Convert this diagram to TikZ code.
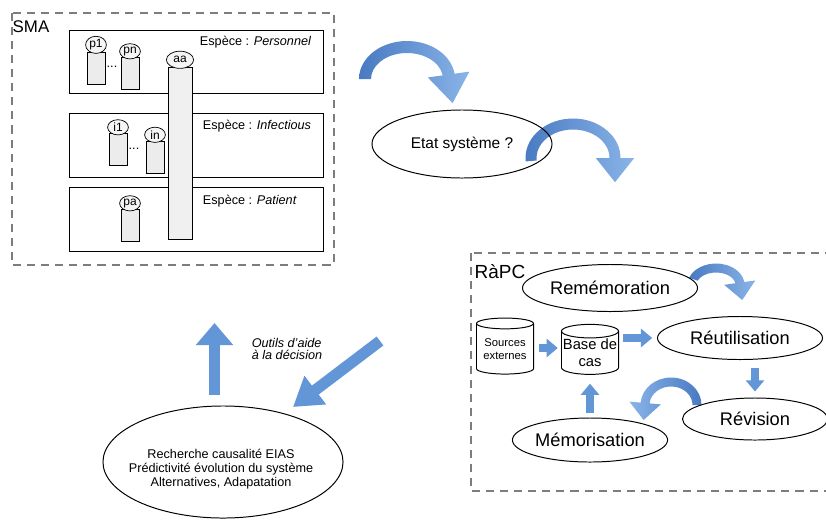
\documentclass[tikz,border=0pt]{standalone}
\usepackage{fontspec}
\setmainfont{Liberation Sans}
\usetikzlibrary{shapes.geometric,arrows.meta,calc,positioning}

\definecolor{arrowblue}{RGB}{98,150,214}
\definecolor{bluedark}{RGB}{72,122,194}
\definecolor{bluelight}{RGB}{138,180,232}
\definecolor{framegray}{RGB}{125,125,125}

% bent block arrow: [shade] {centre} {rx} {ry} {start} {end} {band} {turn} {head length}
\newcommand{\bendarrow}[9][]{%
  \pgfmathsetmacro\bax{#3+#7/2}\pgfmathsetmacro\bay{#4+#7/2}%
  \pgfmathsetmacro\bix{#3-#7/2}\pgfmathsetmacro\biy{#4-#7/2}%
  \coordinate (ba-o) at ($#2+({\bax*cos(#6)},{\bay*sin(#6)})$);
  \coordinate (ba-i) at ($#2+({\bix*cos(#6)},{\biy*sin(#6)})$);
  \coordinate (ba-m) at ($(ba-i)!0.5!(ba-o)$);
  \shade[#1] ($#2+({\bax*cos(#5)},{\bay*sin(#5)})$)
    arc[start angle=#5, end angle=#6, x radius=\bax, y radius=\bay]
    -- ($(ba-i)!2.25!(ba-o)$) -- ($(ba-m)!#9!#8:(ba-o)$)
    -- ($(ba-i)!-1.25!(ba-o)$) -- (ba-i)
    arc[start angle=#6, end angle=#5, x radius=\bix, y radius=\biy] -- cycle;
}

\begin{document}
\begin{tikzpicture}[x=0.025cm, y=0.025cm,
    frame/.style={draw=framegray, line width=1pt, dash pattern=on 5.7pt off 4.3pt},
    species/.style={draw, line width=0.7pt},
    agent/.style={rectangle, draw, fill=gray!15, line width=0.5pt, minimum width=0.45cm, minimum height=0.8cm, inner sep=0pt},
    tag/.style={ellipse, draw, fill=gray!8, line width=0.5pt, inner sep=0.5pt, minimum width=0.52cm, minimum height=0.38cm, font=\fontsize{8.5}{9}\selectfont},
    proc/.style={ellipse, draw, line width=0.7pt, inner sep=0pt, font=\fontsize{13}{15}\selectfont},
    store/.style={cylinder, shape border rotate=90, aspect=0.25, draw, line width=0.7pt, align=center, inner sep=0pt, minimum width=1.425cm},
    flow/.style={draw=arrowblue, line width=0.18cm, -{Triangle[width=0.45cm, length=0.28cm]}},
    bigflow/.style={draw=arrowblue, line width=0.28cm, -{Triangle[width=0.9cm, length=0.55cm]}}
]
\useasboundingbox (0,0) rectangle (826,-520);
\clip (0,0) rectangle (826,-520);

% SMA
\draw[frame] (12,-13) rectangle (334,-265);
\node[font=\fontsize{12}{14}\selectfont] (sma) at (31,-27) {SMA};
\draw[species] (69,-30) rectangle (323,-93);
\draw[species] (69,-113) rectangle (323,-177);
\draw[species] (69,-187) rectangle (323,-251);
\node[anchor=west, font=\fontsize{9}{11}\selectfont] (sppers) at (195,-42) {Espèce : \textit{Personnel}};
\node[anchor=west, font=\fontsize{9}{11}\selectfont] (spinf) at (198,-126) {Espèce : \textit{Infectious}};
\node[anchor=west, font=\fontsize{9}{11}\selectfont] (sppat) at (198,-201) {Espèce : \textit{Patient}};

\node[agent] (agp1) at (96,-68) {};
\node[agent] (agpn) at (130,-73.5) {};
\node[agent] (agi1) at (118,-149.5) {};
\node[agent] (agin) at (155,-157) {};
\node[agent] (agpa) at (130,-225.5) {};
\node[tag, above=-1.5pt of agp1] (tp1) {p1};
\node[tag, above=-1.5pt of agpn] (tpn) {pn};
\node[tag, above=-1.5pt of agi1] (ti1) {i1};
\node[tag, above=-1.5pt of agin] (tin) {in};
\node[tag, above=-1.5pt of agpa] (tpa) {pa};
\node[font=\small] (dots1) at (112,-67) {...};
\node[font=\small] (dots2) at (134,-149) {...};

\node[agent, fill=gray!12, minimum width=0.6cm, minimum height=4.3cm] (agaa) at (180,-153) {};
\node[tag, minimum width=0.68cm, minimum height=0.43cm, above=-1.5pt of agaa] (taa) {aa};

% curved arrows
\bendarrow[left color=bluedark, right color=bluelight]{(407,-79)}{42}{32}{180}{8}{12}{-90}{4.8}
\bendarrow[left color=bluedark, right color=bluelight]{(573,-158)}{42}{34}{185}{0}{11}{-90}{4.4}
\bendarrow[left color=bluedark, right color=bluelight]{(716,-285)}{24}{17}{160}{8}{9}{-90}{3.9}
\bendarrow[left color=bluelight, right color=bluedark]{(671,-405)}{26}{23}{0}{175}{9}{90}{3.8}

\node[proc, minimum width=4.5cm, minimum height=1.7cm, font=\fontsize{11}{13}\selectfont] (etat) at (462,-144) {Etat système ?};

% decision
\node[ellipse, draw, line width=0.7pt, minimum width=6cm, minimum height=2.8cm] (dec) at (223,-462) {};
\node[align=center, font=\fontsize{9}{10}\selectfont] (dectext) at (221,-469) {Recherche causalité EIAS\\Prédictivité évolution du système\\Alternatives, Adapatation};
\node[align=left, font=\fontsize{9}{9}\selectfont\itshape] (tools) at (287,-349) {Outils d'aide\\à la décision};
\coordinate (upfoot) at (214.5,-395);
\coordinate (uptip) at (214.5,-323);
\coordinate (dgfoot) at (380,-341);
\coordinate (dgtip) at (293,-407);
\draw[bigflow] (upfoot) -- (uptip);
\draw[bigflow, -{Triangle[width=0.85cm, length=0.7cm]}] (dgfoot) -- (dgtip);

% RaPC
\draw[frame] (471,-253) rectangle (850,-491);
\node[font=\fontsize{13.5}{15}\selectfont] (rapc) at (500,-272) {RàPC};
\node[proc, minimum width=4.375cm, minimum height=1.175cm] (rem) at (610,-288) {Remémoration};
\node[proc, minimum width=4.125cm, minimum height=1.075cm] (reut) at (740,-338) {Réutilisation};
\node[proc, minimum width=3.625cm, minimum height=1.05cm] (rev) at (755,-419) {Révision};
\node[proc, minimum width=3.825cm, minimum height=1.1cm] (memo) at (590,-440) {Mémorisation};
\node[store, minimum height=1.4cm, font=\fontsize{8}{9.5}\selectfont] (src) at (505,-349) {Sources\\externes};
\node[store, minimum height=1.25cm, font=\fontsize{10.5}{12}\selectfont] (base) at (590,-353) {Base de\\cas};

\draw[flow, shorten <=0.12cm, shorten >=0.08cm] (src.east |- 0,-348) -- (base.west |- 0,-348);
\draw[flow, shorten <=0.1cm, shorten >=0.12cm] (base.east |- reut.west) -- (reut.west);
\draw[flow, shorten <=0.21cm, shorten >=0.15cm] (rev.north |- reut.south) -- (rev.north);
\draw[flow, shorten <=0.12cm, shorten >=0.22cm] (memo.north) -- (base.south);
\end{tikzpicture}
\end{document}
